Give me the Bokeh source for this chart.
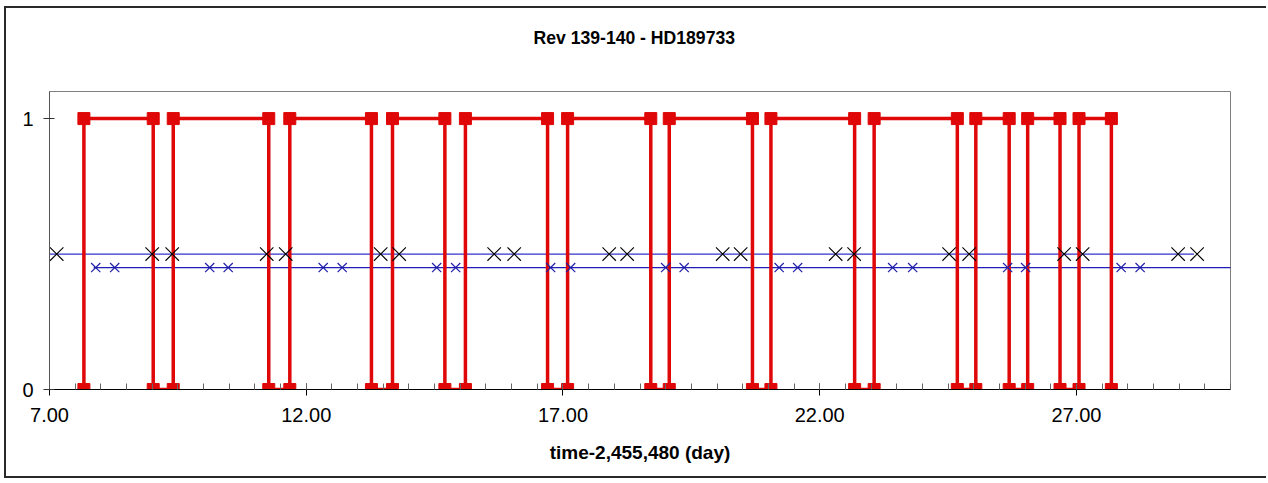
from bokeh.plotting import figure
from bokeh.models import FixedTicker, PrintfTickFormatter, Range1d, Title
from bokeh.embed import file_html
from bokeh.resources import INLINE

# ---- data ----
title_text = "Rev 139-140 - HD189733"
x_label = "time-2,455,480 (day)"

# red step series: switching times (state alternates 0->1->0 ...)
red_times = [7.67, 9.02, 9.41, 11.27, 11.68, 13.27, 13.68, 14.70, 15.10, 16.70,
             17.09, 18.71, 19.07, 20.69, 21.05, 22.68, 23.06, 24.68, 25.04, 25.69,
             26.05, 26.68, 27.05, 27.68]
# black crosses (level 0.5)
black_times = [7.14, 9.00, 9.39, 11.23, 11.60, 13.45, 13.81, 15.66, 16.05, 17.90,
               18.25, 20.11, 20.46, 22.31, 22.67, 24.52, 24.91, 26.76, 27.12, 28.98, 29.35]
black_level = 0.5
# blue crosses (level 0.45)
blue_times = [7.90, 8.27, 10.12, 10.48, 12.33, 12.70, 14.54, 14.91, 16.76, 17.15,
              19.00, 19.36, 21.21, 21.57, 23.42, 23.81, 25.66, 26.01, 27.87, 28.24]
blue_level = 0.45
# horizontal reference lines
upper_line_x = [6.82, 29.29]
lower_line_x = [7.86, 30.20]

x_major = [7, 12, 17, 22, 27]
x_minor = [7 + 0.5 * i for i in range(47)]
y_major = [0, 1]

# build step path
step_x, step_y = [], []
for i, t in enumerate(red_times):
    if i % 2 == 0:
        step_x += [t, t]
        step_y += [0, 1]
    else:
        step_x += [t, t]
        step_y += [1, 0]

p = figure(title=None, width=1262, height=472, output_backend="svg", toolbar_location=None,
           x_range=Range1d(7, 30), y_range=Range1d(0, 1.1),
           min_border_left=43, min_border_right=38, min_border_top=83, min_border_bottom=91)
p.styles = {"margin-left": "4px", "margin-top": "6px",
            "border-left": "2px solid #2a2a2a", "border-top": "2px solid #2a2a2a",
            "border-bottom": "2px solid #2a2a2a", "border-right": "none"}

# spacer between frame and title, then the title itself (stacked outward)
p.add_layout(Title(text=" ", text_font_size="1px", standoff=36), "above")
p.add_layout(Title(text=title_text, align="left", offset=484, vertical_align="bottom",
                   text_font="Liberation Sans", text_font_size="17.6px",
                   text_font_style="bold", text_color="black", standoff=10), "above")

p.background_fill_color = "white"
p.border_fill_color = "white"
p.outline_line_color = "#808080"
p.outline_line_width = 1
p.xgrid.visible = False
p.ygrid.visible = False

xa = p.xaxis[0]
xa.ticker = FixedTicker(ticks=x_major, minor_ticks=x_minor)
xa.formatter = PrintfTickFormatter(format="%.2f")
xa.axis_label = x_label
xa.axis_label_text_font = "Liberation Sans"
xa.axis_label_text_font_size = "19px"
xa.axis_label_text_font_style = "bold"
xa.axis_label_text_color = "black"
xa.axis_label_standoff = 17
xa.major_label_text_font = "Liberation Sans"
xa.major_label_text_font_size = "20px"
xa.major_label_text_color = "black"
xa.major_label_standoff = 12
xa.axis_line_color = "black"
xa.major_tick_line_color = "black"
xa.minor_tick_line_color = "#666666"
xa.major_tick_in = 6
xa.major_tick_out = 6
xa.minor_tick_in = 6
xa.minor_tick_out = 0

ya = p.yaxis[0]
ya.ticker = FixedTicker(ticks=y_major, minor_ticks=[])
ya.major_label_text_font = "Liberation Sans"
ya.major_label_text_font_size = "20px"
ya.major_label_text_color = "black"
ya.major_label_standoff = 10
ya.axis_line_color = "#555555"
ya.major_tick_line_color = "#333333"
ya.major_tick_in = 5
ya.major_tick_out = 6
ya.minor_tick_line_color = None

# horizontal lines
p.line(upper_line_x, [black_level, black_level], line_color="#3333C8", line_width=1.3)
p.line(lower_line_x, [blue_level, blue_level], line_color="#1F1FB8", line_width=1.3)

# red step series
p.line(step_x, step_y, line_color="#DF0707", line_width=3.5)
p.scatter(step_x, step_y, marker="square", size=12, fill_color="#DF0707",
          line_color="#DF0707")

# crosses
p.scatter(blue_times, [blue_level] * len(blue_times), marker="x", size=13,
          line_color="#1F1FA8", line_width=1.2)
p.scatter(black_times, [black_level] * len(black_times), marker="x", size=19,
          line_color="black", line_width=1.1)

open("out.html", "w").write(file_html(p, INLINE))
